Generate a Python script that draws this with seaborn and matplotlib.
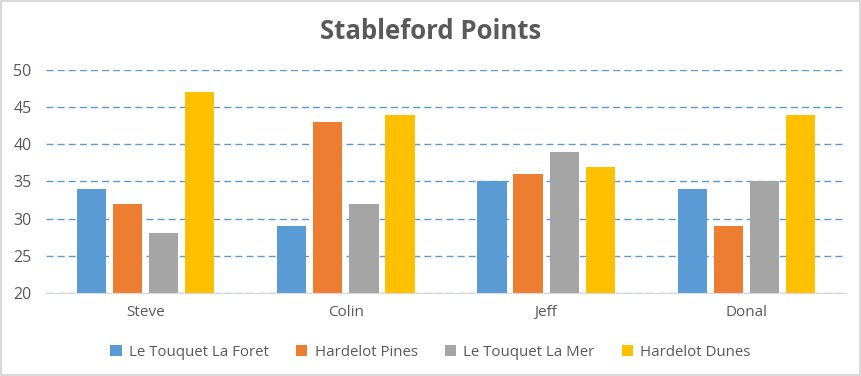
import matplotlib
matplotlib.use('Agg')
import matplotlib.pyplot as plt
import seaborn as sns
import pandas as pd

players = ['Steve', 'Colin', 'Jeff', 'Donal']
courses = ['Le Touquet La Foret', 'Hardelot Pines', 'Le Touquet La Mer', 'Hardelot Dunes']
la_foret = [34, 29, 35, 34]
pines = [32, 43, 36, 29]
la_mer = [28, 32, 39, 35]
dunes = [47, 44, 37, 44]
colors = ['#5B9BD5', '#ED7D31', '#A5A5A5', '#FFC000']

rows = []
for course, vals in zip(courses, [la_foret, pines, la_mer, dunes]):
    for p, v in zip(players, vals):
        rows.append({'player': p, 'course': course, 'points': v})
df = pd.DataFrame(rows)

sns.set_style('white')
plt.rcParams['font.family'] = ['Open Sans', 'DejaVu Sans']
text_color = '#595959'

fig = plt.figure(figsize=(8.61, 3.76), dpi=100)
fig.patch.set_edgecolor('#D9D9D9')
fig.patch.set_linewidth(1.5)
ax = fig.add_axes([0.053, 0.221, 0.930, 0.593])

sns.barplot(data=df, x='player', y='points', hue='course', hue_order=courses,
            palette=colors, saturation=1, width=0.72, gap=0.19, linewidth=0,
            ax=ax, legend=True)

ax.set_ylim(20, 50)
ax.set_yticks(range(20, 51, 5))
ax.set_xlim(-0.5, 3.5)
ax.yaxis.grid(True, linestyle=(0, (5, 3)), color='#5B9BD5', linewidth=1)
ax.set_axisbelow(True)
for s in ['top', 'right', 'left']:
    ax.spines[s].set_visible(False)
ax.spines['bottom'].set_color('#D9D9D9')
ax.tick_params(axis='y', length=0, labelsize=11.5, colors=text_color, pad=10)
ax.tick_params(axis='x', length=0, labelsize=11, colors=text_color, pad=9)
ax.set_xlabel('')
ax.set_ylabel('')

fig.text(0.5, 0.915, 'Stableford Points', ha='center', va='center',
         fontsize=18.5, fontweight='bold', color=text_color)

handles, labels = ax.get_legend_handles_labels()
ax.get_legend().remove()
leg = fig.legend(handles, labels, loc='center', bbox_to_anchor=(0.5, 0.063), ncol=4,
                 frameon=False, fontsize=10.8, handlelength=0.75, handleheight=0.75,
                 columnspacing=1.8, handletextpad=0.5)
for t in leg.get_texts():
    t.set_color(text_color)

fig.savefig('out.png', dpi=100)
